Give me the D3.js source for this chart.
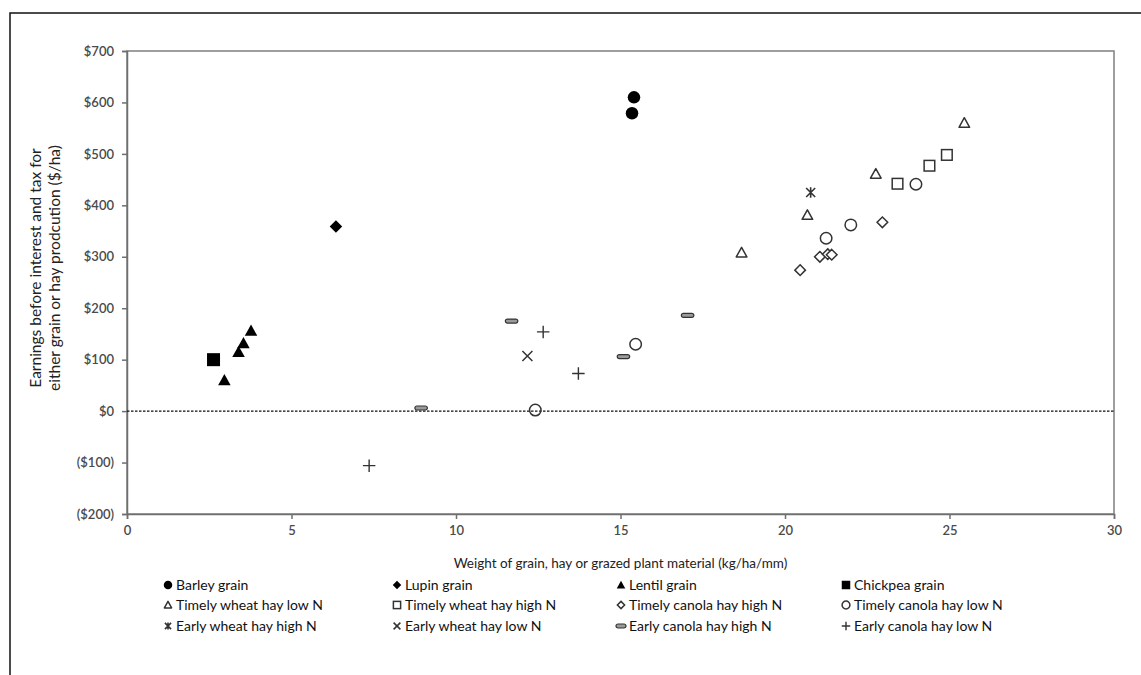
<!DOCTYPE html>
<html><head><meta charset="utf-8">
<script src="https://cdn.jsdelivr.net/npm/d3@7"></script>
<style>
body{margin:0;background:#fff;}
text{font-family:Lato,"Open Sans",sans-serif;}
</style></head>
<body><svg id="c" width="1141" height="675"></svg>
<script>
// ---- data ----
const xTicks = [0, 5, 10, 15, 20, 25, 30];
const yTicks = [-200, -100, 0, 100, 200, 300, 400, 500, 600, 700];
const yTickLabels = ["($200)", "($100)", "$0", "$100", "$200", "$300", "$400", "$500", "$600", "$700"];

const seriesNames = ["Barley grain", "Lupin grain", "Lentil grain", "Chickpea grain",
  "Timely wheat hay low N", "Timely wheat hay high N", "Timely canola hay high N", "Timely canola hay low N",
  "Early wheat hay high N", "Early wheat hay low N", "Early canola hay high N", "Early canola hay low N"];
const seriesShapes = ["circleFill", "diamondFill", "triangleFill", "squareFill",
  "triangle", "square", "diamond", "circle", "asterisk", "times", "dash", "plus"];

const barleyX = [15.41, 15.35];            const barleyY = [610, 579];
const lupinX = [6.35];                      const lupinY = [359];
const lentilX = [2.96, 3.39, 3.54, 3.77];   const lentilY = [60, 115, 132, 156];
const chickpeaX = [2.63];                   const chickpeaY = [100];
const twLowX = [18.68, 20.68, 22.76, 25.45]; const twLowY = [308, 381, 461, 560];
const twHighX = [23.42, 24.39, 24.92];      const twHighY = [442, 477, 498];
const tcHighX = [20.46, 21.06, 21.3, 21.42, 22.96]; const tcHighY = [274, 300, 305, 304, 367];
const tcLowX = [12.41, 15.46, 21.25, 22.0, 23.98]; const tcLowY = [2, 130, 336, 362, 441];
const ewHighX = [20.78];                    const ewHighY = [425];
const ewLowX = [12.17];                     const ewLowY = [107];
const ecHighX = [8.94, 11.69, 15.09, 17.04]; const ecHighY = [6, 175, 106, 186];
const ecLowX = [7.36, 12.65, 13.72];        const ecLowY = [-106, 154, 73];

const seriesX = [barleyX, lupinX, lentilX, chickpeaX, twLowX, twHighX, tcHighX, tcLowX, ewHighX, ewLowX, ecHighX, ecLowX];
const seriesY = [barleyY, lupinY, lentilY, chickpeaY, twLowY, twHighY, tcHighY, tcLowY, ewHighY, ewLowY, ecHighY, ecLowY];

// ---- layout ----
const svg = d3.select("#c");
const L = 127, R = 1114, T = 51, B = 514;
const x = d3.scaleLinear().domain([0, 30]).range([L, R]);
const y = d3.scaleLinear().domain([-200, 700]).range([B, T]);

// outer frame
svg.append("path").attr("d", "M10,675V13H1141").attr("fill", "none").attr("stroke", "#111").attr("stroke-width", 1.5);

// plot box
svg.append("rect").attr("x", L).attr("y", T).attr("width", R - L).attr("height", B - T)
  .attr("fill", "none").attr("stroke", "#7f7f7f").attr("stroke-width", 1.5);

// axes
const xAxis = d3.axisBottom(x).tickValues(xTicks).tickSize(5).tickPadding(7).tickFormat(d3.format("d"));
const yAxis = d3.axisLeft(y).tickValues(yTicks).tickSize(5).tickPadding(8)
  .tickFormat((d, i) => yTickLabels[i]);
const gx = svg.append("g").attr("transform", `translate(0,${B})`).call(xAxis);
const gy = svg.append("g").attr("transform", `translate(${L},0)`).call(yAxis);
[gx, gy].forEach(g => {
  g.select(".domain").attr("stroke", "#6f6f6f").attr("stroke-width", 1.5);
  g.selectAll(".tick line").attr("stroke", "#6f6f6f").attr("stroke-width", 1.5);
  g.selectAll(".tick text").attr("fill", "#4a4a4a").attr("font-size", 13).attr("font-weight", 600)
    .style("font-family", "Lato, sans-serif");
});

// zero line
svg.append("line").attr("x1", L).attr("x2", R).attr("y1", y(0)).attr("y2", y(0))
  .attr("stroke", "#111").attr("stroke-width", 1.2).attr("stroke-dasharray", "2.5,1.5");

// axis titles
svg.append("text").attr("x", (L + R) / 2).attr("y", 568).attr("text-anchor", "middle")
  .attr("font-size", 13.5).attr("fill", "#222").text("Weight of grain, hay or grazed plant material (kg/ha/mm)");
const yt = svg.append("text").attr("transform", "rotate(-90)")
  .attr("text-anchor", "middle").attr("font-size", 15.5).attr("fill", "#222");
yt.append("tspan").attr("x", -268).attr("y", 41).text("Earnings before interest and tax for");
yt.append("tspan").attr("x", -268).attr("y", 60).text("either grain or  hay prodcution ($/ha)");

// markers
function marker(g, shape, s) {
  const r = s / 2;
  const dark = "#333";
  switch (shape) {
    case "circleFill": g.append("circle").attr("r", r).attr("fill", "#000"); break;
    case "circle": g.append("circle").attr("r", r * 0.92).attr("fill", "none").attr("stroke", dark).attr("stroke-width", 1.5); break;
    case "diamondFill": g.append("path").attr("d", `M0,${-r}L${r},0L0,${r}L${-r},0Z`).attr("fill", "#000"); break;
    case "diamond": { const q = r * 0.85; g.append("path").attr("d", `M0,${-q}L${q},0L0,${q}L${-q},0Z`).attr("fill", "#fff").attr("stroke", dark).attr("stroke-width", 1.5); break; }
    case "triangleFill": g.append("path").attr("d", `M0,${-r}L${r},${r * 0.8}L${-r},${r * 0.8}Z`).attr("fill", "#000"); break;
    case "triangle": { const q = r * 0.85; g.append("path").attr("d", `M0,${-q}L${q},${q * 0.8}L${-q},${q * 0.8}Z`).attr("fill", "none").attr("stroke", dark).attr("stroke-width", 1.5).attr("stroke-linejoin", "round"); break; }
    case "squareFill": g.append("rect").attr("x", -r).attr("y", -r).attr("width", s).attr("height", s).attr("fill", "#000"); break;
    case "square": { const q = r * 0.85; g.append("rect").attr("x", -q).attr("y", -q).attr("width", 2 * q).attr("height", 2 * q).attr("fill", "none").attr("stroke", dark).attr("stroke-width", 1.5); break; }
    case "plus": g.append("path").attr("d", `M${-r},0H${r}M0,${-r}V${r}`).attr("stroke", dark).attr("stroke-width", 1.4); break;
    case "times": { const q = r * 0.8; g.append("path").attr("d", `M${-q},${-q}L${q},${q}M${-q},${q}L${q},${-q}`).attr("stroke", dark).attr("stroke-width", 1.5); break; }
    case "asterisk": { const q = r * 0.72; g.append("path").attr("d", `M${-q},${-q}L${q},${q}M${-q},${q}L${q},${-q}M0,${-r * 0.85}V${r * 0.85}`).attr("stroke", dark).attr("stroke-width", 1.6); break; }
    case "dash": g.append("rect").attr("x", -r).attr("y", -2).attr("width", s).attr("height", 4).attr("rx", 2)
      .attr("fill", "#9a9a9a").attr("stroke", dark).attr("stroke-width", 1.2); break;
  }
}

const pts = svg.append("g");
seriesNames.forEach((name, i) => {
  seriesX[i].forEach((xv, j) => {
    const g = pts.append("g").attr("transform", `translate(${x(xv)},${y(seriesY[i][j])})`);
    marker(g, seriesShapes[i], seriesShapes[i] === "squareFill" ? 13 : 12.5);
  });
});

// legend
const colX = [168, 397, 621, 846];
const rowY = [585, 605, 626];
const lg = svg.append("g");
seriesNames.forEach((name, i) => {
  const cx = colX[i % 4], cy = rowY[Math.floor(i / 4)];
  const g = lg.append("g").attr("transform", `translate(${cx},${cy})`);
  marker(g, seriesShapes[i], seriesShapes[i] === "dash" ? 10 : 8.5);
  g.append("text").attr("x", 8).attr("y", 5).attr("font-size", 14).attr("fill", "#111").text(name);
});
</script>
</body></html>
